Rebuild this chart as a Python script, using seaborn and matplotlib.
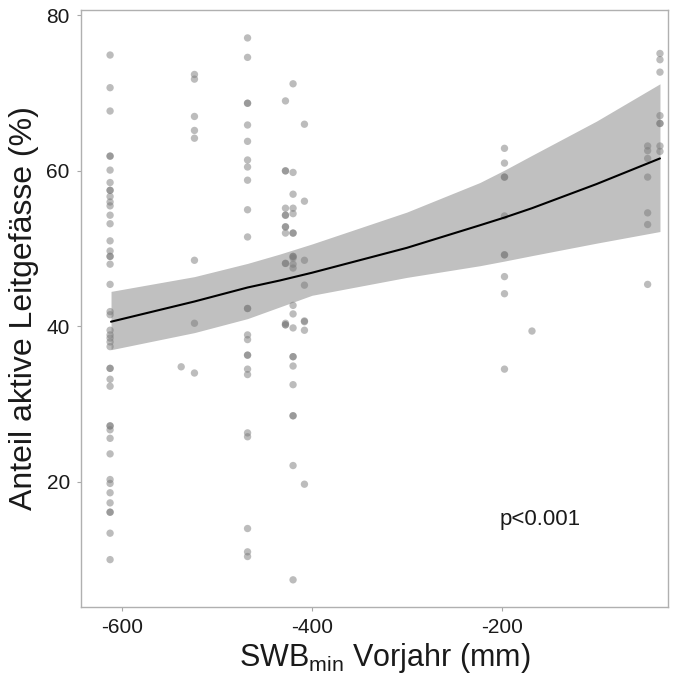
import numpy as np
import pandas as pd
import matplotlib
matplotlib.use("Agg")
import matplotlib.pyplot as plt
import seaborn as sns

# ---- data ----
col_x = [-613, -538, -524, -468, -428, -420, -408, -197, -168, -46, -33]
col_y = [
    # -613
    [74.9, 70.7, 67.7, 61.9, 61.9, 60.1, 58.5, 57.5, 57.5, 56.7, 56.0, 55.5, 54.3,
     53.2, 51.0, 49.7, 49.0, 49.0, 48.0, 45.4, 41.9, 41.5, 39.5, 38.9, 38.5, 38.0,
     37.4, 34.6, 34.6, 33.2, 32.3, 27.2, 27.2, 26.7, 25.6, 23.6, 20.3, 19.8, 18.6,
     17.3, 16.1, 16.1, 13.4, 10.0],
    # -538
    [34.8],
    # -524
    [72.4, 71.8, 67.0, 65.2, 64.2, 48.5, 40.4, 34.0],
    # -468
    [77.1, 74.6, 68.7, 68.7, 65.9, 63.8, 61.4, 60.5, 58.8, 55.0, 51.5, 42.3, 42.3,
     38.9, 38.3, 36.3, 36.3, 34.5, 33.8, 26.3, 25.8, 14.0, 11.0, 10.4],
    # -428
    [69.0, 60.0, 60.0, 55.2, 54.3, 54.3, 52.8, 52.8, 52.0, 48.1, 48.1, 40.4, 40.2, 40.2],
    # -420
    [71.2, 59.8, 57.0, 55.2, 54.5, 52.0, 52.0, 49.0, 49.0, 48.8, 48.0, 47.5, 42.7,
     41.6, 39.8, 36.1, 36.1, 34.9, 32.5, 28.5, 28.5, 22.1, 7.4],
    # -408
    [66.0, 56.1, 48.5, 45.3, 40.7, 40.6, 39.5, 19.7],
    # -197
    [62.9, 61.0, 59.2, 59.2, 54.2, 49.2, 49.2, 46.4, 44.2, 34.5],
    # -168
    [39.4],
    # -46
    [63.2, 62.6, 61.6, 59.2, 54.6, 53.1, 45.4],
    # -33
    [75.1, 74.3, 72.7, 67.1, 66.1, 66.1, 63.2, 62.5],
]

fit_x = [-612, -524, -468, -434, -400, -300, -223, -197, -168, -100, -33]
fit_y = [40.6, 43.2, 45.0, 45.9, 46.9, 50.1, 53.0, 54.0, 55.2, 58.3, 61.6]
fit_lo = [37.0, 39.2, 41.0, 42.5, 44.0, 46.3, 47.8, 48.4, 49.1, 50.7, 52.2]
fit_hi = [44.5, 46.4, 48.1, 49.3, 50.6, 54.7, 58.5, 60.1, 62.0, 66.4, 71.2]

x_ticks = [-600, -400, -200]
y_ticks = [20, 40, 60, 80]

# ---- build tables ----
pts = pd.DataFrame(
    [(cx, v) for cx, ys in zip(col_x, col_y) for v in ys],
    columns=["x", "y"],
)
fit = pd.DataFrame({"x": fit_x, "y": fit_y, "lo": fit_lo, "hi": fit_hi})

sns.set_theme(style="white")
plt.rcParams["font.family"] = ["Liberation Sans", "DejaVu Sans"]
plt.rcParams["mathtext.fontset"] = "custom"
plt.rcParams["mathtext.rm"] = "Liberation Sans"
plt.rcParams["mathtext.it"] = "Liberation Sans:italic"
plt.rcParams["axes.unicode_minus"] = False

fig = plt.figure(figsize=(6.74, 6.78), dpi=100)
ax = fig.add_axes([0.120, 0.105, 0.871, 0.880])

ax.fill_between(fit["x"], fit["lo"], fit["hi"], color="#c0c0c0", lw=0, zorder=1)
sns.scatterplot(data=pts, x="x", y="y", ax=ax, color="#7a7a7a", alpha=0.5,
                s=28, edgecolor="none", zorder=2)
sns.lineplot(data=fit, x="x", y="y", ax=ax, color="black", lw=1.5, zorder=3)

ax.set_xlim(-643.8, -24.6)
ax.set_ylim(3.93, 80.67)
ax.set_xticks(x_ticks)
ax.set_yticks(y_ticks)
ax.tick_params(axis="both", labelsize=15, colors="#a8a8a8", labelcolor="#1a1a1a",
               length=3, width=0.8, direction="out", bottom=True, left=True, pad=5)
for sp in ax.spines.values():
    sp.set_color("#b0b0b0")
    sp.set_linewidth(1.0)

ax.set_xlabel(r"SWB$_{\mathrm{min}}$ Vorjahr (mm)", fontsize=22, color="#1a1a1a")
ax.xaxis.set_label_coords(0.518, -0.058, transform=ax.transAxes)
ax.xaxis.label.set_va("top")
ax.set_ylabel("Anteil aktive Leitgefässe (%)", fontsize=23, color="#1a1a1a", labelpad=5)

ax.text(-202, 15.1, "p<0.001", fontsize=16, color="#1a1a1a", ha="left", va="center")

fig.savefig("out.png", dpi=100)
